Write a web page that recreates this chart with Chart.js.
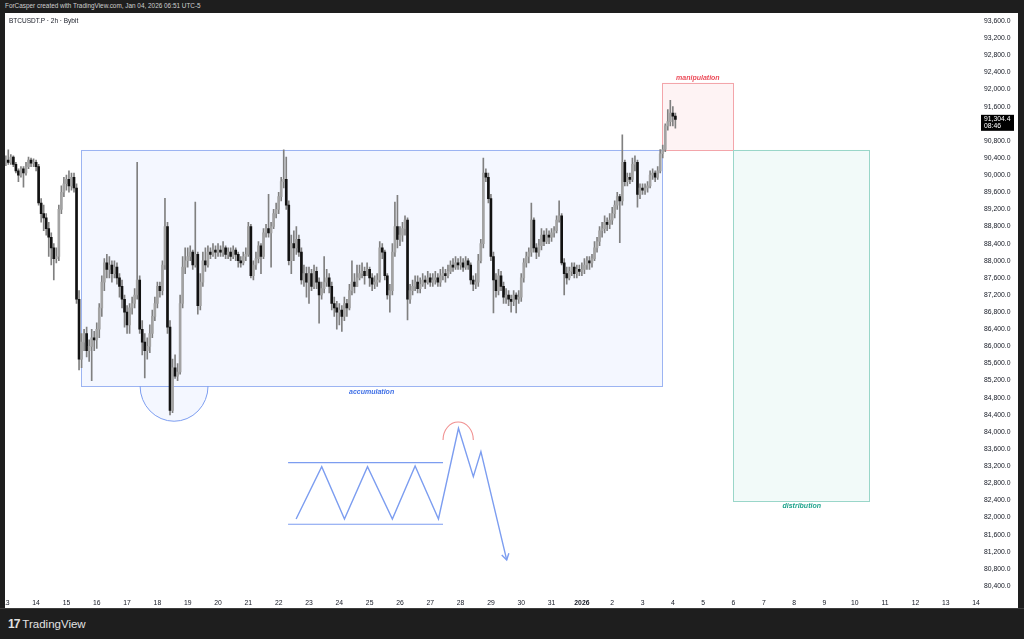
<!DOCTYPE html>
<html>
<head>
<meta charset="utf-8">
<script src="https://cdn.jsdelivr.net/npm/chart.js@4.4.1/dist/chart.umd.min.js"></script>
<style>
html, body { margin: 0; padding: 0; width: 1024px; height: 639px; overflow: hidden; background: #1e1e1e; font-family: "Liberation Sans", Arial, sans-serif; }
#hdr { position: absolute; left: 5px; top: 1px; font-size: 6.4px; line-height: 10px; color: #cfcfcf; }
#panel { position: absolute; left: 5px; top: 13px; width: 1013px; height: 595px; background: #fff; overflow: hidden; }
#c { position: absolute; left: 0; top: 0; }
#sym { position: absolute; left: 4px; top: 4px; font-size: 6.5px; color: #131722; }
#foot { position: absolute; left: 0; top: 608px; width: 1024px; height: 31px; background: #1e1e1e; border-top: 1px solid #3c3c3c; box-sizing: border-box; }
#logo { position: absolute; left: 8px; top: 8px; color: #e2e2e2; font-size: 11.5px; line-height: 14px; }
#logo b { font-size: 12px; letter-spacing: -1px; margin-right: 3px; }
</style>
</head>
<body>
<div id="hdr">ForCasper created with TradingView.com, Jan 04, 2026 06:51 UTC-5</div>
<div id="panel">
  <canvas id="c" width="1013" height="595"></canvas>
  <div id="sym">BTCUSDT.P · 2h · Bybit</div>
</div>
<div id="foot"><div id="logo"><b>17</b>TradingView</div></div>
<script>
// 2h candles, first one opens Dec 13 00:00 (day 0)
var hoursPerCandle = 2;

var opens = [
  90300, 90350, 90300, 90420, 90250, 90100, 90000, 90150, 90050, 90200, 90350, 90280,
  90300, 90200, 89350, 89100, 89000, 88750, 88550, 88300, 88050, 88100, 89200, 89600,
  89800, 89900, 89750, 89950, 89700, 87100, 85700, 86100, 86300, 85900, 86000, 86200,
  86150, 86400, 86900, 87500, 87950, 87800, 87900, 87700, 87850, 87600, 87400, 87100,
  86800, 86500, 86900, 87000, 87200, 87550, 86400, 86100, 85900, 86000, 86300, 86700,
  87000, 87400, 87300, 87900, 88800, 86450, 84500, 85500, 85300, 85400, 87000, 87850,
  88000, 88100, 88200, 87900, 88150, 86950, 87500, 88000, 87900, 88200, 88150, 88250,
  88200, 88250, 88200, 88300, 88150, 88200, 88100, 88250, 88150, 88000, 87950, 88100,
  88150, 88800, 87650, 87900, 88050, 88350, 88100, 88650, 88750, 88650, 88800, 89100,
  89200, 89500, 89850, 89900, 89300, 88000, 88400, 88300, 88500, 88200, 87550, 87700,
  87500, 87700, 87400, 87750, 87500, 87200, 87350, 87500, 87600, 87400, 87000, 86900,
  86800, 86850, 86700, 87000, 86900, 87300, 87500, 87400, 87600, 87700, 87750, 87650,
  87800, 87600, 87450, 87500, 87550, 88300, 88200, 87650, 87200, 87300, 88200, 88800,
  88500, 88600, 88750, 88950, 87100, 87300, 87400, 87500, 87350, 87450, 87550, 87500,
  87600, 87500, 87550, 87600, 87500, 87650, 87700, 87650, 87750, 87900, 87850, 87950,
  87900, 87950, 87850, 88000, 87900, 87550, 87450, 87500, 88000, 88400, 90050, 89950,
  89450, 88100, 87550, 87300, 87650, 87400, 87150, 87200, 87100, 87050, 87200, 87100,
  87150, 87600, 87950, 88100, 88200, 88950, 88300, 88200, 88350, 88600, 88450, 88600,
  88550, 88650, 88700, 88950, 89050, 87950, 87700, 87600, 87750, 87850, 87700, 87800,
  87750, 87800, 87900, 88000, 87950, 88050, 88300, 88450, 88700, 88750, 88900, 88850,
  88950, 89100, 89300, 89500, 89400, 90300, 89850, 89950, 89900, 90250, 90300, 89550,
  89700, 89650, 89700, 89750, 90000, 90050, 89950, 90100, 90500, 90600, 91150, 91250,
  91450, 91380
];
var highs = [
  90450, 90590, 90480, 90450, 90300, 90150, 90200, 90200, 90300, 90420, 90400, 90380,
  90350, 90250, 89450, 89300, 89100, 88900, 88650, 88400, 88300, 89300, 89750, 89950,
  90000, 90100, 90050, 90050, 89800, 87300, 86300, 86400, 86450, 86150, 86400, 86350,
  86550, 87000, 87650, 88050, 88150, 88100, 88000, 88000, 87950, 87700, 87550, 87200,
  86950, 87000, 87150, 87350, 90300, 87650, 86600, 86300, 86200, 86500, 86850, 87150,
  87500, 87500, 88000, 89460, 88900, 86600, 85700, 85800, 85600, 87200, 88100, 88300,
  88300, 88350, 88250, 89370, 88200, 87700, 88200, 88300, 88350, 88300, 88400, 88350,
  88400, 88350, 88450, 88350, 88300, 88300, 88350, 88300, 88200, 88100, 88200, 88300,
  88900, 88850, 88000, 88200, 88450, 88400, 88750, 88850, 89550, 88900, 89200, 89350,
  89600, 89950, 90590, 90420, 89400, 88600, 88700, 88800, 88600, 88300, 87900, 87850,
  87850, 87800, 87900, 87850, 87600, 87500, 88100, 87800, 87700, 87500, 87150, 87050,
  87000, 86950, 87150, 87100, 87450, 88000, 87700, 87900, 87900, 87950, 87850, 87950,
  87850, 87700, 87650, 87700, 88450, 88400, 88250, 87700, 87450, 88400, 89370, 89530,
  88800, 88900, 89050, 89000, 87450, 87550, 87650, 87650, 87600, 87700, 87650, 87750,
  87700, 87700, 87750, 87700, 87800, 87850, 87800, 87900, 88000, 88050, 88100, 88050,
  88100, 88050, 88100, 88050, 87950, 87650, 87700, 88150, 88500, 90400, 90150, 90050,
  89550, 88200, 87700, 87800, 87750, 87500, 87350, 87300, 87200, 87300, 87250, 87300,
  87700, 88050, 88200, 88300, 89350, 89000, 88400, 88500, 88750, 88700, 88750, 88700,
  88750, 88800, 89050, 89400, 89100, 88050, 87850, 87850, 87950, 87950, 87900, 87900,
  87950, 88050, 88100, 88100, 88150, 88450, 88550, 88800, 88900, 89050, 89000, 89100,
  89250, 89400, 89600, 89550, 90940, 90350, 90050, 90050, 90400, 90450, 90350, 89800,
  89800, 89800, 89850, 90100, 90150, 90100, 90200, 90600, 90700, 91200, 91530, 91750,
  91600, 91450
];
var lows = [
  90220, 90250, 90250, 90200, 90050, 89850, 89950, 89720, 90000, 90150, 90200, 90200,
  90100, 89300, 88900, 88700, 88600, 88100, 87900, 87550, 87950, 88000, 89100, 89500,
  89650, 89600, 89650, 89600, 87000, 85450, 85500, 85900, 85750, 85650, 85200, 85900,
  85950, 86200, 86700, 87300, 87600, 87600, 87500, 87600, 87450, 87150, 86900, 86450,
  86300, 86300, 86750, 86900, 87100, 86300, 85800, 85260, 85700, 85850, 86200, 86600,
  86900, 87150, 87200, 87800, 86300, 84400, 84450, 85250, 85200, 85350, 86900, 87700,
  87850, 88000, 87800, 87850, 86750, 86850, 87400, 87750, 87850, 88050, 88100, 88050,
  88100, 88100, 88100, 88050, 88050, 88000, 88050, 88000, 87850, 87850, 87900, 88000,
  88100, 87600, 87550, 87800, 87950, 87700, 88050, 88550, 88550, 87850, 88750, 89000,
  89100, 89400, 89700, 89200, 87900, 87700, 88000, 88150, 88100, 87450, 87400, 87150,
  87000, 87300, 87350, 87350, 86540, 87100, 87250, 87400, 87250, 86850, 86700, 86400,
  86500, 86350, 86600, 86700, 86850, 87200, 87250, 87400, 87550, 87600, 87450, 87650,
  87400, 87300, 87350, 87400, 87500, 88050, 87550, 87100, 86800, 87200, 88100, 88300,
  88350, 88450, 88600, 86620, 87000, 87200, 87300, 87250, 87250, 87400, 87350, 87450,
  87400, 87400, 87450, 87400, 87400, 87550, 87500, 87600, 87700, 87750, 87800, 87800,
  87800, 87750, 87800, 87800, 87450, 87300, 87350, 87400, 87950, 88300, 89850, 89350,
  88000, 86780, 87150, 87200, 87300, 87000, 87000, 86950, 86800, 86950, 86780, 87000,
  87050, 87500, 87850, 87950, 88100, 88200, 88050, 88100, 88250, 88350, 88400, 88400,
  88450, 88550, 88650, 88900, 87900, 87200, 87450, 87550, 87650, 87600, 87600, 87650,
  87650, 87700, 87800, 87800, 87850, 88000, 88200, 88350, 88550, 88650, 88700, 88750,
  88850, 89000, 89200, 88420, 89300, 89750, 89750, 89800, 89850, 90100, 89250, 89450,
  89550, 89550, 89600, 89700, 89900, 89850, 89900, 90050, 90400, 90550, 91050, 91150,
  91150, 91100
];
var closes = [
  90350, 90300, 90420, 90250, 90100, 90000, 90150, 90050, 90200, 90350, 90280, 90300,
  90200, 89350, 89100, 89000, 88750, 88550, 88300, 88050, 88100, 89200, 89600, 89800,
  89900, 89750, 89950, 89700, 87100, 85700, 86100, 86300, 85900, 86000, 86200, 86150,
  86400, 86900, 87500, 87950, 87800, 87900, 87700, 87850, 87600, 87400, 87100, 86800,
  86500, 86900, 87000, 87200, 87550, 86400, 86100, 85900, 86000, 86300, 86700, 87000,
  87400, 87300, 87900, 88800, 86450, 84500, 85500, 85300, 85400, 87000, 87850, 88000,
  88100, 88200, 87900, 88150, 86950, 87500, 88000, 87900, 88200, 88150, 88250, 88200,
  88250, 88200, 88300, 88150, 88200, 88100, 88250, 88150, 88000, 87950, 88100, 88150,
  88800, 87650, 87900, 88050, 88350, 88100, 88650, 88750, 88650, 88800, 89100, 89200,
  89500, 89850, 89900, 89300, 88000, 88400, 88300, 88500, 88200, 87550, 87700, 87500,
  87700, 87400, 87750, 87500, 87200, 87350, 87500, 87600, 87400, 87000, 86900, 86800,
  86850, 86700, 87000, 86900, 87300, 87500, 87400, 87600, 87700, 87750, 87650, 87800,
  87600, 87450, 87500, 87550, 88300, 88200, 87650, 87200, 87300, 88200, 88800, 88500,
  88600, 88750, 88950, 87100, 87300, 87400, 87500, 87350, 87450, 87550, 87500, 87600,
  87500, 87550, 87600, 87500, 87650, 87700, 87650, 87750, 87900, 87850, 87950, 87900,
  87950, 87850, 88000, 87900, 87550, 87450, 87500, 88000, 88400, 90050, 89950, 89450,
  88100, 87550, 87300, 87650, 87400, 87150, 87200, 87100, 87050, 87200, 87100, 87150,
  87600, 87950, 88100, 88200, 88950, 88300, 88200, 88350, 88600, 88450, 88600, 88550,
  88650, 88700, 88950, 89050, 87950, 87700, 87600, 87750, 87850, 87700, 87800, 87750,
  87800, 87900, 88000, 87950, 88050, 88300, 88450, 88700, 88750, 88900, 88850, 88950,
  89100, 89300, 89500, 89400, 90300, 89850, 89950, 89900, 90250, 90300, 89550, 89700,
  89650, 89700, 89750, 90000, 90050, 89950, 90100, 90500, 90600, 91150, 91250, 91450,
  91380, 91304.4
];
var countdown = '08:46';

// x axis: one tick per day, day 0 = Dec 13
var dayTicks = [0, 1, 2, 3, 4, 5, 6, 7, 8, 9, 10, 11, 12, 13, 14, 15, 16, 17, 18, 19, 20, 21, 22, 23, 24, 25, 26, 27, 28, 29, 30, 31, 32];
var dayLabels = ['13', '14', '15', '16', '17', '18', '19', '20', '21', '22', '23', '24', '25', '26', '27', '28', '29', '30', '31', '2026', '2', '3', '4', '5', '6', '7', '8', '9', '10', '11', '12', '13', '14'];
var priceTicks = [80400, 80800, 81200, 81600, 82000, 82400, 82800, 83200, 83600, 84000, 84400, 84800, 85200, 85600, 86000, 86400, 86800, 87200, 87600, 88000, 88400, 88800, 89200, 89600, 90000, 90400, 90800, 91200, 91600, 92000, 92400, 92800, 93200, 93600];

// drawn zones (time in days, price)
var zoneNames = ['accumulation', 'manipulation', 'distribution'];
var zoneStart = [2.48, 21.65, 24.0];
var zoneEnd = [21.65, 24.0, 28.5];
var zoneTop = [90590, 92160, 90590];
var zoneBottom = [85070, 90590, 82390];

// little schematic under the range
var pathT = [9.575, 10.42, 11.17, 11.93, 12.75, 13.5, 14.27, 14.93, 15.42, 15.67, 16.52];
var pathP = [81967, 83188, 81967, 83188, 81967, 83204, 81967, 84085, 82955, 83539, 81009];
var railT = [9.31, 14.42];
var railP = [83282, 81843];

// sweep bowl under the range low, and the cap over the schematic top
var bowl = { t: 5.55, p: 85070, halfDays: 1.12, depth: 820 };
var cap = { t: 14.92, p: 83812, halfDays: 0.5, rise: 420 };

var colors = {
  up: '#a3a3a3', down: '#121212', wick: '#808080',
  accumulation: ['rgba(41,98,255,0.05)', '#9cb4f2', '#3e6fe6'],
  manipulation: ['rgba(242,54,69,0.06)', '#f3a5aa', '#ec4c5a'],
  distribution: ['rgba(34,171,148,0.06)', '#9ad6c9', '#1fa38c'],
  path: '#7c9df0', capLine: '#f09090'
};

function fmt(v) {
  return v.toLocaleString('en-US', { minimumFractionDigits: 1, maximumFractionDigits: 1 });
}

var times = closes.map(function (c, i) { return i * hoursPerCandle / 24; });
var wickData = times.map(function (t, i) { return { x: t, y: [lows[i], highs[i]] }; });
var bodyData = times.map(function (t, i) { return { x: t, y: [opens[i], closes[i]] }; });
var bodyColors = closes.map(function (c, i) { return c >= opens[i] ? colors.up : colors.down; });

var drawings = {
  id: 'drawings',
  beforeDatasetsDraw: function (chart) {
    var ctx = chart.ctx, x = chart.scales.x, y = chart.scales.y;
    ctx.save();
    zoneNames.forEach(function (name, i) {
      var x0 = x.getPixelForValue(zoneStart[i]), x1 = x.getPixelForValue(zoneEnd[i]);
      var y0 = y.getPixelForValue(zoneTop[i]), y1 = y.getPixelForValue(zoneBottom[i]);
      ctx.fillStyle = colors[name][0];
      ctx.fillRect(x0, y0, x1 - x0, y1 - y0);
      ctx.strokeStyle = colors[name][1];
      ctx.lineWidth = 1;
      ctx.strokeRect(Math.round(x0) + 0.5, Math.round(y0) + 0.5, Math.round(x1 - x0), Math.round(y1 - y0));
    });
    // bowl
    var bx = x.getPixelForValue(bowl.t), by = y.getPixelForValue(bowl.p);
    var brx = x.getPixelForValue(bowl.t + bowl.halfDays) - bx;
    var bry = y.getPixelForValue(bowl.p - bowl.depth) - by;
    ctx.beginPath();
    ctx.ellipse(bx, by, brx, bry, 0, 0, Math.PI);
    ctx.fillStyle = colors.accumulation[0];
    ctx.fill();
    ctx.strokeStyle = colors.path;
    ctx.lineWidth = 1;
    ctx.stroke();
    ctx.restore();
  },
  afterDatasetsDraw: function (chart) {
    var ctx = chart.ctx, x = chart.scales.x, y = chart.scales.y;
    ctx.save();
    // zone labels
    ctx.font = 'italic bold 7px "Liberation Sans", Arial, sans-serif';
    ctx.textAlign = 'center';
    zoneNames.forEach(function (name, i) {
      var cx = x.getPixelForValue((zoneStart[i] + zoneEnd[i]) / 2);
      ctx.fillStyle = colors[name][2];
      if (name === 'manipulation') {
        ctx.textBaseline = 'bottom';
        ctx.fillText(name, cx, y.getPixelForValue(zoneTop[i]) - 1.5);
      } else {
        ctx.textBaseline = 'top';
        ctx.fillText(name, cx, y.getPixelForValue(zoneBottom[i]) + 2);
      }
    });
    // rails
    ctx.strokeStyle = colors.path;
    ctx.lineWidth = 1.2;
    railP.forEach(function (p) {
      var yy = y.getPixelForValue(p);
      ctx.beginPath();
      ctx.moveTo(x.getPixelForValue(railT[0]), yy);
      ctx.lineTo(x.getPixelForValue(railT[1]), yy);
      ctx.stroke();
    });
    // zigzag path
    ctx.lineWidth = 1.4;
    ctx.beginPath();
    pathT.forEach(function (t, i) {
      var px = x.getPixelForValue(t), py = y.getPixelForValue(pathP[i]);
      if (i === 0) ctx.moveTo(px, py); else ctx.lineTo(px, py);
    });
    ctx.stroke();
    // arrow head
    var n = pathT.length;
    var ex = x.getPixelForValue(pathT[n - 1]), ey = y.getPixelForValue(pathP[n - 1]);
    var sx = x.getPixelForValue(pathT[n - 2]), sy = y.getPixelForValue(pathP[n - 2]);
    var ang = Math.atan2(ey - sy, ex - sx);
    ctx.beginPath();
    ctx.moveTo(ex - 7 * Math.cos(ang - 0.55), ey - 7 * Math.sin(ang - 0.55));
    ctx.lineTo(ex, ey);
    ctx.lineTo(ex - 7 * Math.cos(ang + 0.55), ey - 7 * Math.sin(ang + 0.55));
    ctx.stroke();
    // cap over the fake-out high
    var cx2 = x.getPixelForValue(cap.t), cy2 = y.getPixelForValue(cap.p);
    var crx = x.getPixelForValue(cap.t + cap.halfDays) - cx2;
    var cry = cy2 - y.getPixelForValue(cap.p + cap.rise);
    ctx.beginPath();
    ctx.ellipse(cx2, cy2, crx, cry, 0, Math.PI, 2 * Math.PI);
    ctx.strokeStyle = colors.capLine;
    ctx.lineWidth = 1.1;
    ctx.stroke();
    ctx.restore();
  },
  afterDraw: function (chart) {
    var ctx = chart.ctx, y = chart.scales.y, area = chart.chartArea;
    var last = closes[closes.length - 1];
    var py = y.getPixelForValue(last);
    ctx.save();
    ctx.fillStyle = '#000';
    ctx.fillRect(area.right + 1, py - 4.5, 33, 16);
    ctx.fillStyle = '#fff';
    ctx.font = '6.8px "Liberation Sans", Arial, sans-serif';
    ctx.textAlign = 'left';
    ctx.textBaseline = 'middle';
    ctx.fillText(fmt(last), area.right + 4, py);
    ctx.fillText(countdown, area.right + 4, py + 7);
    ctx.restore();
  }
};

var chart = new Chart(document.getElementById('c'), {
  type: 'bar',
  data: {
    datasets: [
      { label: 'wicks', data: wickData, backgroundColor: colors.wick, barThickness: 1, grouped: false, order: 2 },
      { label: 'bodies', data: bodyData, backgroundColor: bodyColors, borderWidth: 0, barThickness: 2, minBarLength: 1, grouped: false, order: 1 }
    ]
  },
  options: {
    responsive: false,
    maintainAspectRatio: false,
    animation: false,
    layout: { padding: 0, autoPadding: false },
    plugins: { legend: { display: false }, tooltip: { enabled: false } },
    scales: {
      x: {
        type: 'linear', min: -0.02, max: 32.13, offset: false,
        grid: { display: false, drawTicks: false }, border: { display: false },
        afterBuildTicks: function (s) { s.ticks = dayTicks.map(function (v) { return { value: v }; }); },
        afterFit: function (s) { s.height = 14; },
        ticks: {
          padding: 5, autoSkip: false, maxRotation: 0, color: '#131722',
          font: function (c) {
            return { family: '"Liberation Sans", Arial, sans-serif', size: 6.8, weight: (c.tick && c.tick.value === 19) ? 'bold' : 'normal' };
          },
          callback: function (v, i) { return dayLabels[i]; }
        }
      },
      y: {
        type: 'linear', position: 'right', min: 80213, max: 93787,
        grid: { display: false, drawTicks: false }, border: { display: false },
        afterBuildTicks: function (s) { s.ticks = priceTicks.map(function (v) { return { value: v }; }); },
        afterFit: function (s) { s.width = 38; },
        ticks: {
          padding: 4, color: '#131722',
          font: { family: '"Liberation Sans", Arial, sans-serif', size: 6.8 },
          callback: function (v) { return fmt(v); }
        }
      }
    }
  },
  plugins: [drawings]
});

// the layout keeps some room round the plot for edge labels;
// grow the canvas and shift it so the plot itself fills panel x 0..975, y 0..581
var plotW = 975, plotH = 581;
for (var pass = 0; pass < 2; pass++) {
  var a = chart.chartArea;
  var extraW = chart.width - (a.right - a.left);
  var extraH = chart.height - (a.bottom - a.top);
  chart.resize(Math.round(plotW + extraW), Math.round(plotH + extraH));
}
var a2 = chart.chartArea;
chart.canvas.style.left = (-Math.round(a2.left)) + 'px';
chart.canvas.style.top = (-Math.round(a2.top)) + 'px';
</script>
</body>
</html>
